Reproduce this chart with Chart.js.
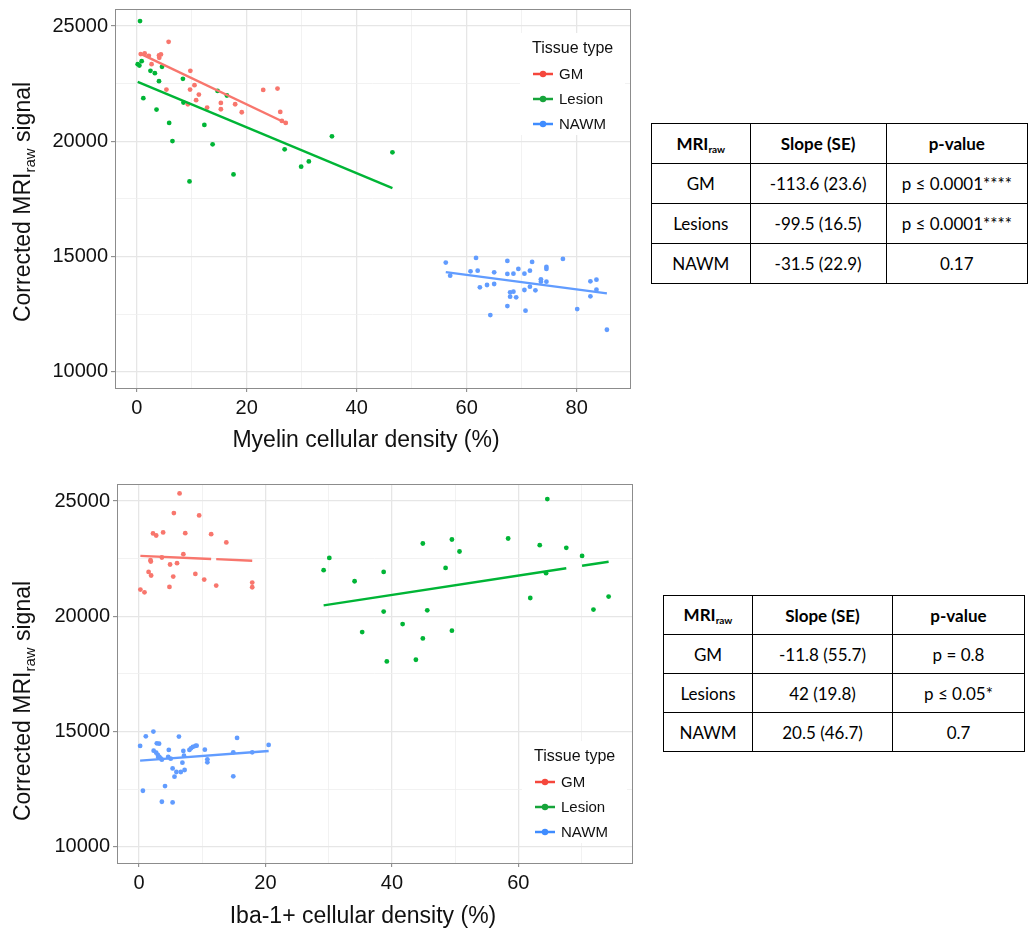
<!DOCTYPE html>
<html>
<head>
<meta charset="utf-8">
<script src="https://cdn.jsdelivr.net/npm/chart.js@4.4.0/dist/chart.umd.min.js"></script>
<style>
  body { margin: 0; background: #fff; width: 1028px; height: 938px; overflow: hidden; position: relative; }
  canvas { position: absolute; left: 0; }
  #myelinChart { top: 0; }
  #ibaChart { top: 470px; }
  table.stats { position: absolute; border-collapse: collapse; font-family: Lato, 'Open Sans', sans-serif; font-size: 17px; color: #000; table-layout: fixed; }
  table.stats td, table.stats th { border: 1.5px solid #000; text-align: center; padding: 0; }
  table.stats th { font-weight: bold; }
  table.stats sub { font-size: 10px; vertical-align: -3px; }
  #myelinTable { left: 651px; top: 123px; }
  #ibaTable { left: 663px; top: 595px; }
</style>
</head>
<body>
<canvas id="myelinChart" width="650" height="460"></canvas>
<canvas id="ibaChart" width="650" height="468"></canvas>
<table class="stats" id="myelinTable"></table>
<table class="stats" id="ibaTable"></table>
<script>
// ---- groups ----
const tissueTypes = ['GM', 'Lesion', 'NAWM'];
const tableRowNames = ['GM', 'Lesions', 'NAWM'];

// ---- axis ticks (labelled every other one) ----
const signalTicks = [10000, 12500, 15000, 17500, 20000, 22500, 25000];
const myelinTicks = [0, 10, 20, 30, 40, 50, 60, 70, 80];
const ibaTicks = [0, 10, 20, 30, 40, 50, 60, 70];

// ---- myelin panel: [density %, corrected signal] ----
const myelinGM = [
  [0.73, 23783], [1.45, 23812], [2.2, 23710], [2.7, 23348], [4.05, 23725], [4.4, 23769], [4.1, 23623],
  [5.8, 24318], [5.4, 22246], [9.75, 23058], [9.7, 22246], [10.5, 22435], [11.3, 22030], [10.8, 21783],
  [9.3, 21609], [12.8, 21464], [15.3, 21667], [15.3, 21391], [17.9, 21609], [19.1, 21261], [23.0, 22231],
  [25.6, 22290], [26.1, 21274], [26.4, 20884], [27.1, 20797]
];
const myelinLesion = [
  [0.6, 25217], [0.18, 23348], [0.48, 23290], [0.9, 23478], [1.2, 21870], [2.5, 23058], [3.3, 22956],
  [4.05, 22609], [4.6, 23232], [3.6, 21377], [5.9, 20797], [6.5, 20013], [8.4, 22710], [8.5, 21682],
  [9.6, 18261], [12.3, 20710], [13.8, 19870], [14.7, 22187], [16.4, 21987], [17.6, 18565], [26.9, 19652],
  [29.9, 18900], [31.3, 19130], [35.5, 20217], [46.5, 19521]
];
const myelinNAWM = [
  [56.2, 14739], [57.0, 14174], [61.7, 14943], [60.7, 14362], [62.0, 14391], [62.4, 13667], [63.7, 13768],
  [65.0, 13812], [65.0, 14319], [64.3, 12464], [67.4, 14812], [67.4, 14247], [68.5, 14261], [69.4, 14465],
  [70.5, 14261], [71.5, 14391], [71.9, 14768], [71.5, 13696], [70.5, 13551], [72.5, 13536], [67.9, 13449],
  [68.5, 13478], [67.9, 13261], [69.0, 13232], [67.4, 12855], [70.7, 12652], [73.5, 14014], [73.5, 13913],
  [74.5, 14551], [74.5, 14464], [74.5, 13913], [77.5, 14899], [80.1, 12725], [82.5, 13927], [83.6, 14000],
  [83.6, 13565], [82.5, 13275], [85.5, 11826]
];

// ---- Iba-1+ panel ----
const ibaGM = [
  [6.4, 25333], [5.5, 24478], [9.5, 24377], [2.2, 23594], [2.7, 23507], [3.8, 23638], [7.3, 23609],
  [11.4, 23565], [13.8, 23204], [7.0, 22696], [3.6, 22552], [1.8, 22435], [1.85, 22378], [4.9, 22248],
  [6.0, 22304], [1.5, 21926], [1.9, 21770], [5.4, 21726], [8.9, 21839], [10.3, 21595], [12.2, 21335],
  [4.8, 21274], [0.2, 21161], [0.85, 21043], [17.9, 21465], [17.9, 21261]
];
const ibaLesion = [
  [64.6, 25087], [44.9, 23159], [49.5, 23333], [50.7, 22813], [58.4, 23377], [63.4, 23087], [67.6, 22970],
  [70.1, 22622], [30.1, 22535], [29.2, 22000], [34.1, 21522], [38.7, 21926], [48.5, 22100], [64.4, 21870],
  [61.9, 20796], [74.3, 20856], [71.9, 20291], [38.7, 20204], [45.6, 20261], [41.7, 19665], [35.3, 19317],
  [44.9, 19043], [49.5, 19378], [39.2, 18043], [43.8, 18117]
];
const ibaNAWM = [
  [0.16, 14377], [1.06, 14794], [2.26, 15000], [2.8, 14491], [3.16, 14478], [6.3, 14783], [2.3, 14174],
  [2.7, 14087], [2.96, 13986], [3.05, 13884], [3.4, 13840], [3.6, 13783], [3.2, 13899], [4.6, 13899],
  [4.7, 14203], [5.0, 13826], [7.0, 14161], [7.1, 13957], [6.85, 13652], [5.3, 13404], [5.9, 13247],
  [6.6, 13247], [7.2, 13334], [5.6, 13043], [4.1, 12638], [0.6, 12435], [3.6, 11957], [5.3, 11928],
  [7.96, 14203], [8.2, 14273], [8.5, 14333], [8.9, 14377], [9.1, 14391], [10.4, 14217], [10.8, 13796],
  [10.8, 13666], [14.9, 14101], [15.5, 14727], [14.9, 13058], [17.9, 14101], [20.5, 14421]
];

// ---- regression summaries (slope per % density) ----
const myelinSlopes = [-113.6, -99.5, -31.5];
const myelinSE = [23.6, 16.5, 22.9];
const myelinPValues = ['p ≤ 0.0001****', 'p ≤ 0.0001****', '0.17'];
const myelinFitStart = [23790, 22583, 14325];   // fitted signal at each group's lowest density

const ibaSlopes = [-11.8, 42, 20.5];
const ibaSE = [55.7, 19.8, 46.7];
const ibaPValues = ['p = 0.8', 'p ≤ 0.05*', '0.7'];
const ibaFitStart = [22622, 20475, 13740];
const ibaFitBreaks = [[11.4, 12.2], [67.6, 70.1], null];  // small breaks in the exported fit lines

// ---- styling ----
const pointColors = ['#f8766d', '#00b536', '#619cff'];
const keyColors = ['#f5473c', '#16a43a', '#3f8cff'];
const gridMajor = '#e6e6e6';
const gridMinor = '#efefef';
const sans = '"Liberation Sans", Arial, sans-serif';

function fitLine(points, start, slope, gap) {
  const xs = points.map(p => p[0]);
  const x0 = Math.min(...xs), x1 = Math.max(...xs);
  const at = x => ({ x: x, y: start + slope * (x - x0) });
  if (!gap) return [at(x0), at(x1)];
  return [at(x0), at(gap[0]), { x: gap[0], y: null }, at(gap[1]), at(x1)];
}

function buildDatasets(groups, starts, slopes, breaks) {
  const sets = [];
  groups.forEach((pts, i) => {
    sets.push({
      type: 'line',
      label: tissueTypes[i] + ' fit',
      data: fitLine(pts, starts[i], slopes[i], breaks && breaks[i]),
      borderColor: pointColors[i],
      borderWidth: 2.4,
      pointRadius: 0,
      spanGaps: false,
      fill: false,
      order: 1
    });
  });
  groups.forEach((pts, i) => {
    sets.push({
      type: 'scatter',
      label: tissueTypes[i],
      data: pts.map(p => ({ x: p[0], y: p[1] })),
      backgroundColor: pointColors[i],
      borderWidth: 0,
      pointRadius: 2.4,
      order: 2
    });
  });
  return sets;
}

// panel border, axis titles (with subscript) and the inset legend
const panelDecor = {
  id: 'panelDecor',
  afterDraw(chart, args, opts) {
    const ctx = chart.ctx;
    const a = chart.chartArea;
    ctx.save();
    ctx.strokeStyle = '#8c8c8c';
    ctx.lineWidth = 1;
    ctx.strokeRect(Math.round(a.left) + 0.5, Math.round(a.top) + 0.5, Math.round(a.width), Math.round(a.height));

    // legend
    const lx = a.right - 98, ly = a.top + opts.legendTop;
    ctx.fillStyle = '#fff';
    ctx.fillRect(lx - 12, ly - 16, 105, 102);
    ctx.fillStyle = '#111';
    ctx.textBaseline = 'middle';
    ctx.textAlign = 'left';
    ctx.font = '16px ' + sans;
    ctx.fillText('Tissue type', lx, ly);
    ctx.font = '15px ' + sans;
    tissueTypes.forEach((t, i) => {
      const y = ly + 25 * (i + 1);
      ctx.strokeStyle = keyColors[i];
      ctx.lineWidth = 2.5;
      ctx.beginPath();
      ctx.moveTo(lx + 1, y);
      ctx.lineTo(lx + 21, y);
      ctx.stroke();
      ctx.fillStyle = keyColors[i];
      ctx.beginPath();
      ctx.arc(lx + 11, y, 3.2, 0, Math.PI * 2);
      ctx.fill();
      ctx.fillStyle = '#111';
      ctx.fillText(t, lx + 27, y + 1);
    });

    // x title
    ctx.fillStyle = '#111';
    ctx.font = '23px ' + sans;
    ctx.textAlign = 'center';
    ctx.fillText(opts.xTitle, opts.xTitlePos[0], opts.xTitlePos[1]);

    // y title: Corrected MRI_raw signal
    ctx.translate(opts.yTitlePos[0], opts.yTitlePos[1]);
    ctx.rotate(-Math.PI / 2);
    ctx.textAlign = 'left';
    ctx.textBaseline = 'alphabetic';
    const big = '23px ' + sans, small = '15px ' + sans;
    const p1 = 'Corrected MRI', p2 = 'raw', p3 = ' signal';
    ctx.font = big; const w1 = ctx.measureText(p1).width, w3 = ctx.measureText(p3).width;
    ctx.font = small; const w2 = ctx.measureText(p2).width;
    let x = -(w1 + w2 + w3) / 2;
    ctx.font = big; ctx.fillText(p1, x, 8); x += w1;
    ctx.font = small; ctx.fillText(p2, x, 13); x += w2;
    ctx.font = big; ctx.fillText(p3, x, 8);
    ctx.restore();
  }
};

function axisOptions(xMin, xMax, xTicks, yAxisWidth, xAxisHeight) {
  const isMajorX = c => c.tick && c.tick.value % 20 === 0;
  const isMajorY = c => c.tick && c.tick.value % 5000 === 0;
  return {
    x: {
      type: 'linear', min: xMin, max: xMax,
      border: { display: false },
      grid: {
        color: c => isMajorX(c) ? gridMajor : gridMinor,
        lineWidth: c => isMajorX(c) ? 1.3 : 0.8,
        tickLength: 4, tickWidth: 1,
        tickColor: c => isMajorX(c) ? '#7f7f7f' : 'rgba(0,0,0,0)'
      },
      ticks: {
        maxRotation: 0, autoSkip: false, padding: 4,
        color: '#111', font: { family: sans, size: 20 },
        callback: v => (v % 20 === 0 ? v : '')
      },
      afterBuildTicks: s => { s.ticks = xTicks.map(v => ({ value: v })); },
      afterFit: s => { s.height = xAxisHeight; s.paddingLeft = 0; s.paddingRight = 0; }
    },
    y: {
      type: 'linear', min: 9300, max: 25740,
      border: { display: false },
      grid: {
        color: c => isMajorY(c) ? gridMajor : gridMinor,
        lineWidth: c => isMajorY(c) ? 1.3 : 0.8,
        tickLength: 4, tickWidth: 1,
        tickColor: c => isMajorY(c) ? '#7f7f7f' : 'rgba(0,0,0,0)'
      },
      ticks: {
        autoSkip: false, padding: 3,
        color: '#111', font: { family: sans, size: 20 },
        callback: v => (v % 5000 === 0 ? String(v) : '')
      },
      afterBuildTicks: s => { s.ticks = signalTicks.map(v => ({ value: v })); },
      afterFit: s => { s.width = yAxisWidth; s.paddingTop = 0; s.paddingBottom = 0; }
    }
  };
}

new Chart(document.getElementById('myelinChart'), {
  type: 'scatter',
  data: { datasets: buildDatasets([myelinGM, myelinLesion, myelinNAWM], myelinFitStart, myelinSlopes, null) },
  options: {
    responsive: false,
    animation: false,
    layout: { padding: { top: 9, right: 20, left: 0, bottom: 0 } },
    scales: axisOptions(-3.95, 89.7, myelinTicks, 115, 72),
    plugins: {
      legend: { display: false },
      tooltip: { enabled: false },
      panelDecor: { legendTop: 40, xTitle: 'Myelin cellular density (%)', xTitlePos: [366, 441], yTitlePos: [22, 202] }
    }
  },
  plugins: [panelDecor]
});

new Chart(document.getElementById('ibaChart'), {
  type: 'scatter',
  data: { datasets: buildDatasets([ibaGM, ibaLesion, ibaNAWM], ibaFitStart, ibaSlopes, ibaFitBreaks) },
  options: {
    responsive: false,
    animation: false,
    layout: { padding: { top: 14, right: 18, left: 0, bottom: 0 } },
    scales: axisOptions(-3.5, 78, ibaTicks, 117, 75),
    plugins: {
      legend: { display: false },
      tooltip: { enabled: false },
      panelDecor: { legendTop: 273, xTitle: 'Iba-1+ cellular density (%)', xTitlePos: [363, 447], yTitlePos: [22, 231] }
    }
  },
  plugins: [panelDecor]
});

// ---- summary tables ----
function fillTable(id, slopes, ses, pvals, colWidths, rowHeight) {
  const table = document.getElementById(id);
  const cg = document.createElement('colgroup');
  colWidths.forEach(w => {
    const c = document.createElement('col');
    c.style.width = w + 'px';
    cg.appendChild(c);
  });
  table.appendChild(cg);
  const head = document.createElement('tr');
  head.style.height = rowHeight + 'px';
  head.innerHTML = '<th>MRI<sub>raw</sub></th><th>Slope (SE)</th><th>p-value</th>';
  table.appendChild(head);
  tableRowNames.forEach((name, i) => {
    const tr = document.createElement('tr');
    tr.style.height = rowHeight + 'px';
    [name, slopes[i] + ' (' + ses[i] + ')', pvals[i]].forEach(txt => {
      const td = document.createElement('td');
      td.textContent = txt;
      tr.appendChild(td);
    });
    table.appendChild(tr);
  });
}

fillTable('myelinTable', myelinSlopes, myelinSE, myelinPValues, [99, 137, 142], 40);
fillTable('ibaTable', ibaSlopes, ibaSE, ibaPValues, [89, 140, 132], 39);
</script>
</body>
</html>
